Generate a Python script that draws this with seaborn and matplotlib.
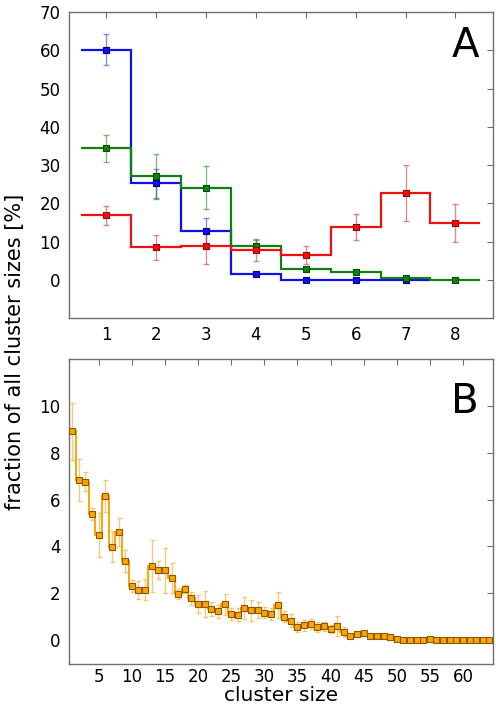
import numpy as np
import matplotlib
matplotlib.use("Agg")
import matplotlib.pyplot as plt
import seaborn as sns

# -------------------------------
# Data: panel A (cluster size 1..8)
# -------------------------------
blue_vals = [60.2, 25.2, 12.8, 1.5, 0.0, 0.0, 0.0]
blue_err = [4.0, 3.8, 3.4, 0.3, 0.1, 0.1, 0.1]

green_vals = [34.4, 27.0, 24.1, 8.9, 2.9, 2.0, 0.4, 0.0]
green_err = [3.5, 5.8, 5.6, 1.6, 0.5, 0.3, 0.2, 0.1]

red_vals = [16.9, 8.5, 8.8, 7.8, 6.4, 13.8, 22.7, 14.8]
red_err = [2.5, 3.3, 4.6, 2.9, 2.3, 3.5, 7.4, 5.0]

# -------------------------------
# Data: panel B (cluster size 1..64)
# -------------------------------
b_vals = [8.91, 6.84, 6.76, 5.37, 4.49, 6.16, 3.99, 4.61, 3.38, 2.31,
          2.13, 2.16, 3.17, 2.99, 2.98, 2.65, 1.96, 2.19, 1.79, 1.54,
          1.54, 1.34, 1.23, 1.54, 1.13, 1.09, 1.37, 1.27, 1.30, 1.18,
          1.11, 1.51, 1.00, 0.83, 0.56, 0.63, 0.69, 0.56, 0.59, 0.48,
          0.62, 0.35, 0.17, 0.27, 0.32, 0.17, 0.17, 0.18, 0.13, 0.06,
          0.02, 0.02, 0.02, 0.02, 0.03, 0.01, 0.01, 0.01, 0.01, 0.01,
          0.01, 0.01, 0.01, 0.01]
b_err = [1.20, 0.90, 0.40, 0.25, 0.95, 0.68, 0.67, 0.60, 0.45, 0.25,
         0.38, 0.45, 1.10, 0.37, 0.97, 0.65, 0.22, 0.18, 0.28, 0.38,
         0.55, 0.30, 0.27, 0.45, 0.25, 0.28, 0.46, 0.45, 0.35, 0.25,
         0.25, 0.55, 0.24, 0.28, 0.21, 0.25, 0.20, 0.20, 0.20, 0.17,
         0.42, 0.20, 0.08, 0.08, 0.08, 0.06, 0.06, 0.06, 0.05, 0.04,
         0.02, 0.02, 0.02, 0.02, 0.02, 0.0, 0.0, 0.0, 0.0, 0.0,
         0.0, 0.0, 0.0, 0.0]

sns.set_style("white")
plt.rcParams['font.family'] = ['DejaVu Sans']
plt.rcParams['text.color'] = 'black'
plt.rcParams['axes.labelcolor'] = 'black'
plt.rcParams['xtick.labelcolor'] = 'black'
plt.rcParams['ytick.labelcolor'] = 'black'

fig = plt.figure(figsize=(4.96, 7.09), dpi=100)
ax_a = fig.add_axes([0.139, 0.5515, 0.8545, 0.4315])
ax_b = fig.add_axes([0.139, 0.064, 0.8545, 0.4297])


def draw_series(ax, vals, err, line_c, edge_c, err_c, lw=1.6, ms=22, cap=2.5):
    x = np.arange(1, len(vals) + 1)
    edges = np.arange(len(vals) + 1) + 0.5
    ax.stairs(vals, edges, baseline=None, color=line_c, lw=lw, zorder=2)
    ax.errorbar(x, vals, yerr=err, fmt='none', ecolor=err_c, elinewidth=1.0,
                capsize=cap, capthick=1.0, alpha=0.55, zorder=3)
    sns.scatterplot(x=x, y=vals, ax=ax, marker='s', s=ms, color=line_c,
                    edgecolor=edge_c, linewidth=0.8, zorder=4, legend=False)


# -------------------------------
# Panel A
# -------------------------------
draw_series(ax_a, blue_vals, blue_err, '#1010ee', '#00008b', '#3030d0')
draw_series(ax_a, green_vals, green_err, '#108010', '#005000', '#208020')
draw_series(ax_a, red_vals, red_err, '#f01010', '#a00000', '#c03030')

ax_a.set_xlim(0.25, 8.75)
ax_a.set_ylim(-10, 70)
ax_a.set_xticks(range(1, 9))
ax_a.set_yticks(range(0, 71, 10))
ax_a.text(0.935, 0.89, "A", transform=ax_a.transAxes, fontsize=29,
          ha='center', va='center', color='black')

# -------------------------------
# Panel B
# -------------------------------
draw_series(ax_b, b_vals, b_err, '#ffa500', '#8a5a00', '#f0a020',
            lw=1.4, ms=24, cap=1.8)

ax_b.set_xlim(0.5, 64.5)
ax_b.set_ylim(-1, 12)
ax_b.set_xticks(range(5, 61, 5))
ax_b.set_yticks(range(0, 11, 2))
ax_b.text(0.935, 0.86, "B", transform=ax_b.transAxes, fontsize=29,
          ha='center', va='center', color='black')

for ax in (ax_a, ax_b):
    for sp in ax.spines.values():
        sp.set_color('#707070')
        sp.set_linewidth(1.0)
    ax.tick_params(axis='both', which='both', top=True, right=True,
                   direction='in', length=4, color='#707070',
                   labelsize=12, pad=6, labelcolor='black')

ax_b.tick_params(axis='x', pad=3)
ax_b.set_xlabel("cluster size", fontsize=14.5, labelpad=0)

fig.text(0.03, 0.503, "fraction of all cluster sizes [%]", rotation=90,
         fontsize=15, ha='center', va='center', color='black')

fig.savefig("out.png", dpi=100)
